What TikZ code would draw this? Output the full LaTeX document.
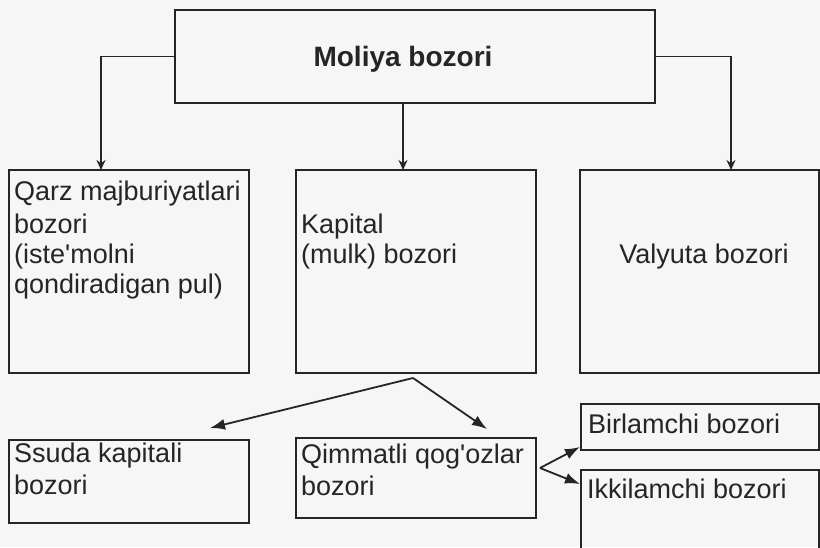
\documentclass[tikz,border=0pt]{standalone}
\usepackage{fontspec}
\setmainfont{Liberation Sans}
\usetikzlibrary{arrows.meta}
\definecolor{ink}{HTML}{252525}
\definecolor{paper}{HTML}{F6F6F6}
\begin{document}
\begin{tikzpicture}[x=1pt,y=-1pt,
  box/.style={draw=ink, line width=1.7pt, anchor=north west, inner sep=0pt, outer sep=0pt},
  txt/.style={anchor=base west, inner sep=0pt, text=ink, font=\fontsize{27}{30}\selectfont},
  conn/.style={draw=ink, line width=1.8pt},
  tipS/.style={-{Stealth[length=10pt,width=9pt]}},
  tipL/.style={-{Latex[length=15pt,width=11pt]}}]
\fill[paper] (0,0) rectangle (820,547);
\useasboundingbox (0,0) rectangle (820,547);
\clip (0,0) rectangle (820,547);

% boxes
\node[box, minimum width=480pt, minimum height=93pt] (top) at (175,10) {};
\node[box, minimum width=240pt, minimum height=203pt] (b1) at (9,170) {};
\node[box, minimum width=240pt, minimum height=203pt] (b2) at (296,170) {};
\node[box, minimum width=239pt, minimum height=203pt] (b3) at (580,170) {};
\node[box, minimum width=240pt, minimum height=83pt] (b4) at (9,440) {};
\node[box, minimum width=240pt, minimum height=80pt] (b5) at (296,438) {};
\node[box, minimum width=238pt, minimum height=46pt] (b6) at (581,404) {};
\node[box, minimum width=238pt, minimum height=100pt] (b7) at (581,470) {};

% texts
\node[anchor=base, inner sep=0pt, text=ink, font=\bfseries\fontsize{28}{30}\selectfont] (ttl) at (403,66) {Moliya bozori};
\node[txt] (t1a) at (14,200) {Qarz majburiyatlari};
\node[txt] (t1b) at (14,233) {bozori};
\node[txt] (t1c) at (14,263) {(iste\textquotesingle molni};
\node[txt] (t1d) at (14,293) {qondiradigan pul)};
\node[txt] (t2a) at (301,233) {Kapital};
\node[txt] (t2b) at (301,263) {(mulk) bozori};
\node[txt, anchor=base] (t3) at (704,263) {Valyuta bozori};
\node[txt] (t4a) at (14,462) {Ssuda kapitali};
\node[txt] (t4b) at (14,494) {bozori};
\node[txt] (t5a) at (301,463) {Qimmatli qog\textquotesingle ozlar};
\node[txt] (t5b) at (301,495) {bozori};
\node[txt] (t6) at (588,433) {Birlamchi bozori};
\node[txt] (t7) at (587,498) {Ikkilamchi bozori};

% connectors from the top box
\draw[conn,tipS] (top.west) -| ([xshift=-28pt]b1.north);
\draw[conn,tipS] (top.east) -| ([xshift=31.5pt]b3.north);
\draw[conn,tipS] ([xshift=-12pt]top.south) -- ([xshift=-13pt]b2.north);

% lower connectors
\coordinate (sp1) at (413,378);
\coordinate (e1) at (210,428);
\coordinate (e2) at (487,429);
\draw[conn,tipL] (sp1) -- (e1);
\draw[conn,tipL] (sp1) -- (e2);
\coordinate (sp2) at (540,468);
\coordinate (e3) at (580,447);
\coordinate (e4) at (580,484);
\draw[conn,tipL] (sp2) -- (e3);
\draw[conn,tipL] (sp2) -- (e4);
\end{tikzpicture}
\end{document}
